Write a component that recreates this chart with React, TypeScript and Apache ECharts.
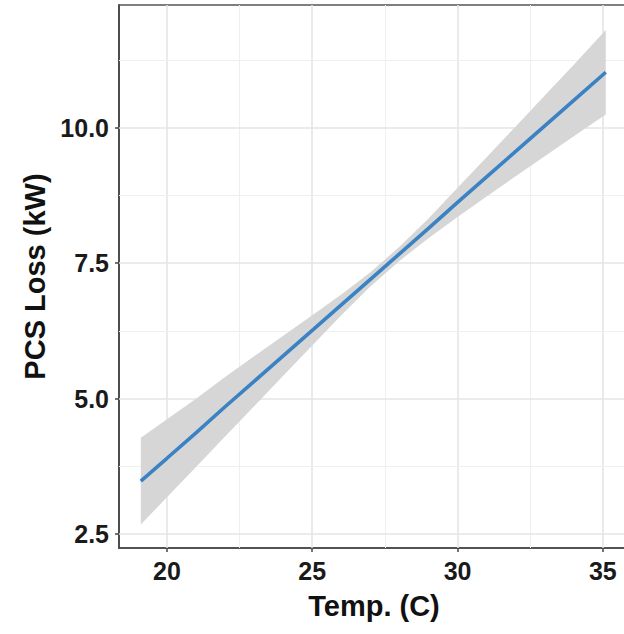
import React, { useEffect, useRef } from "react";
import * as echarts from "echarts";

const tempX = [19.1, 20, 21, 22, 23, 24, 25, 26, 27, 28, 29, 30, 31, 32, 33, 34, 35.1];
const fitY = [3.48, 3.9, 4.37, 4.85, 5.32, 5.79, 6.26, 6.73, 7.2, 7.67, 8.14, 8.62, 9.09, 9.56, 10.03, 10.5, 11.02];
const lowerY = [2.68, 3.18, 3.74, 4.3, 4.86, 5.42, 5.98, 6.54, 7.07, 7.54, 7.96, 8.35, 8.73, 9.1, 9.47, 9.84, 10.24];
const upperY = [4.28, 4.62, 5.0, 5.4, 5.78, 6.16, 6.54, 6.92, 7.33, 7.8, 8.32, 8.89, 9.45, 10.02, 10.59, 11.16, 11.8];

const xTicks = [20, 25, 30, 35];
const yTicks = [2.5, 5, 7.5, 10];
const xMinorGrid = [22.5, 27.5, 32.5];
const yMinorGrid = [3.75, 6.25, 8.75, 11.25];

const X_MIN = 18.35;
const X_MAX = 35.9;
const Y_MIN = 2.245;
const Y_MAX = 12.26;

const FONT = "'Liberation Sans', Arial, sans-serif";

export default function App() {
  const ref = useRef<HTMLDivElement>(null);

  useEffect(() => {
    document.body.style.margin = "0";
    if (!ref.current) return;
    const chart = echarts.init(ref.current, undefined, { renderer: "svg" });

    const major = { color: "#e5e5e5", width: 1.6, type: "solid" };
    const minor = { color: "#efefef", width: 1, type: "solid" };

    const gridLines = [
      ...xTicks.map((v) => ({ xAxis: v, lineStyle: major })),
      ...xMinorGrid.map((v) => ({ xAxis: v, lineStyle: minor })),
      ...yTicks.map((v) => ({ yAxis: v, lineStyle: major })),
      ...yMinorGrid.map((v) => ({ yAxis: v, lineStyle: minor })),
    ];

    chart.setOption({
      animation: false,
      grid: {
        left: 119,
        top: 5,
        width: 510,
        height: 543,
        outerBoundsMode: "none",
        containLabel: false,
        show: true,
        borderColor: "#555",
        borderWidth: 1.6,
        backgroundColor: "#fff",
      },
      xAxis: {
        type: "value",
        min: X_MIN,
        max: X_MAX,
        name: "Temp. (C)",
        nameLocation: "middle",
        nameGap: 43,
        nameTextStyle: { fontFamily: FONT, fontWeight: "bold", fontSize: 29, color: "#111" },
        axisLine: { show: true, onZero: false, lineStyle: { color: "#444", width: 1.6 } },
        axisTick: { show: true, length: 4, customValues: xTicks, lineStyle: { color: "#444", width: 1.5 } },
        axisLabel: {
          customValues: xTicks,
          margin: 10,
          fontFamily: FONT,
          fontWeight: "bold",
          fontSize: 25,
          color: "#1a1a1a",
        },
        splitLine: { show: false },
      },
      yAxis: {
        type: "value",
        min: Y_MIN,
        max: Y_MAX,
        name: "PCS Loss (kW)",
        nameLocation: "middle",
        nameGap: 70,
        nameRotate: 90,
        nameTextStyle: { fontFamily: FONT, fontWeight: "bold", fontSize: 29, color: "#111" },
        axisLine: { show: true, onZero: false, lineStyle: { color: "#444", width: 1.6 } },
        axisTick: { show: true, length: 4, customValues: yTicks, lineStyle: { color: "#444", width: 1.5 } },
        axisLabel: {
          customValues: yTicks,
          margin: 10,
          fontFamily: FONT,
          fontWeight: "bold",
          fontSize: 25,
          color: "#1a1a1a",
          formatter: (v: number) => v.toFixed(1),
        },
        splitLine: { show: false },
      },
      series: [
        {
          type: "line",
          data: [],
          z: 1,
          markLine: {
            silent: true,
            symbol: ["none", "none"],
            label: { show: false },
            z: 1,
            data: gridLines,
          },
        },
        {
          type: "custom",
          z: 2,
          silent: true,
          data: tempX.map((x, i) => [x, lowerY[i], upperY[i]]),
          encode: { x: 0, y: [1, 2] },
          renderItem: (params: any, api: any) => {
            if (params.dataIndex !== 0) return null;
            const pts: number[][] = [];
            for (let i = 0; i < tempX.length; i++) pts.push(api.coord([tempX[i], upperY[i]]));
            for (let i = tempX.length - 1; i >= 0; i--) pts.push(api.coord([tempX[i], lowerY[i]]));
            return {
              type: "polygon",
              shape: { points: pts },
              style: { fill: "#d6d6d6" },
            };
          },
        },
        {
          type: "line",
          z: 3,
          data: tempX.map((x, i) => [x, fitY[i]]),
          showSymbol: false,
          symbol: "none",
          lineStyle: { color: "#3a82c3", width: 3.6 },
        },
      ],
    });

    return () => chart.dispose();
  }, []);

  return <div ref={ref} style={{ width: 624, height: 634 }} />;
}
